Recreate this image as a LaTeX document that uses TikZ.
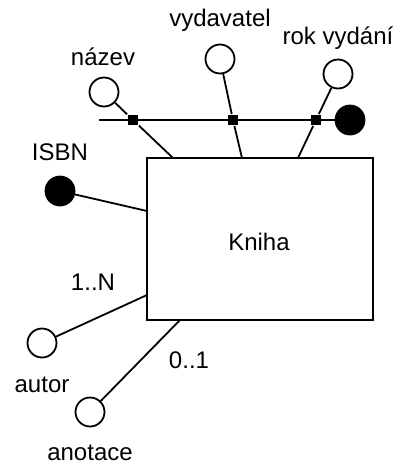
\documentclass[tikz,border=0pt]{standalone}
\usepackage{fontspec}
\setmainfont{Liberation Sans}

\tikzstyle{entity}=[rectangle,draw,line width=1.8pt,minimum width=226pt,minimum height=162pt,inner sep=0pt,font=\fontsize{24}{28}\selectfont]
\tikzstyle{attr}=[circle,draw,line width=1.8pt,fill=white,minimum size=29pt,inner sep=0pt]
\tikzstyle{key}=[circle,draw,line width=1.8pt,fill=black,minimum size=29pt,inner sep=0pt]
\tikzstyle{joint}=[rectangle,fill=black,minimum size=10pt,inner sep=0pt]
\tikzstyle{txt}=[inner sep=0pt,font=\fontsize{24}{28}\selectfont]

\begin{document}
\begin{tikzpicture}[x=1pt,y=-1pt,line width=1.8pt]
		\useasboundingbox (0,0) rectangle (401,472);
		\node[entity] (kniha) at (260,239) {};
		\node[txt] (lkniha) at (259,242) {Kniha};
		% attributes
		\node[attr] (nazev) at (104,92) {};
		\node[attr] (vydavatel) at (220,59) {};
		\node[attr] (rok) at (338,74) {};
		\node[key] (isbn) at (60,191) {};
		\node[key] (skupina) at (350,120) {};
		\node[attr] (autor) at (42,343) {};
		\node[attr] (anotace) at (90,412) {};
		% joints on the key line
		\node[joint] (j1) at (133,120) {};
		\node[joint] (j2) at (233,120) {};
		\node[joint] (j3) at (316,120) {};
		\coordinate (lstart) at (99,120);
		% ends on the entity
		\coordinate (e1) at (173,158);
		\coordinate (e2) at (242,158);
		\coordinate (e3) at (298,158);
		\coordinate (e4) at (147,211);
		\coordinate (e5) at (147,295);
		\coordinate (e6) at (180,320);
		% labels
		\node[txt] (lnazev) at (103,57) {název};
		\node[txt] (lvydavatel) at (220,20) {vydavatel};
		\node[txt] (lrok) at (338,38) {rok vydání};
		\node[txt] (lisbn) at (60,152) {ISBN};
		\node[txt] (lmn) at (93,282) {1..N};
		\node[txt] (lautor) at (42,385) {autor};
		\node[txt] (lanotace) at (90,453) {anotace};
		\node[txt] (lopt) at (189,360) {0..1};
		% connectors
		\draw (lstart) -- (skupina);
		\draw (nazev) -- (j1) -- (e1);
		\draw (vydavatel) -- (j2) -- (e2);
		\draw (rok) -- (j3) -- (e3);
		\draw (isbn) -- (e4);
		\draw (autor) -- (e5);
		\draw (anotace) -- (e6);
\end{tikzpicture}
\end{document}
